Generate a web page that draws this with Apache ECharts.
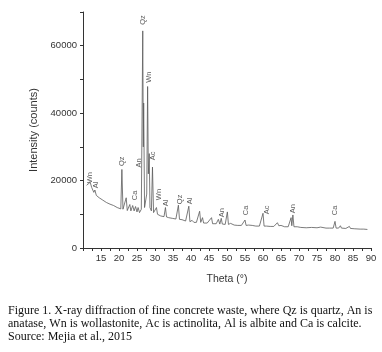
<!DOCTYPE html>
<html>
<head>
<meta charset="utf-8">
<script src="https://cdn.jsdelivr.net/npm/echarts@6/dist/echarts.min.js"></script>
<style>
  html, body { margin: 0; padding: 0; background: #fff; }
  #chart { width: 382px; height: 352px; }
</style>
</head>
<body>
<div id="chart"></div>
<script>
// XRD pattern: 2-theta (deg) and intensity (counts)
const theta = [
  11.0, 11.5, 12.0, 12.4, 13.0, 13.3, 13.7, 14.5, 15.5, 16.5, 17.5, 18.0, 18.5, 19.5,
  20.5, 20.8, 21.1, 21.5, 22.0, 22.3, 23.0, 23.3, 23.8, 24.2, 24.6, 25.0, 25.3, 25.7,
  26.2, 26.4, 26.6, 26.75, 26.85, 27.1, 27.4, 27.7, 27.95, 28.15, 28.4, 28.6, 29.0, 29.3,
  29.6, 30.0, 30.4, 30.7, 31.2, 31.6, 32.0, 32.5, 32.9, 33.2, 33.8, 34.3, 34.8, 35.3,
  35.8, 36.5, 36.8, 37.5, 38.0, 38.5, 39.0, 39.4, 39.7, 40.3, 40.8, 41.5, 42.0, 42.4,
  42.7, 43.2, 43.5, 44.5, 45.0, 45.7, 46.0, 47.0, 47.6, 48.0, 48.4, 48.7, 49.5, 50.1,
  50.4, 51.0, 52.0, 53.0, 54.0, 55.0, 55.3, 56.0, 57.0, 58.0, 59.0, 60.0, 60.3, 61.0,
  62.0, 63.0, 64.0, 64.4, 65.0, 66.0, 67.0, 67.8, 68.0, 68.3, 68.6, 69.5, 70.5, 72.0,
  73.5, 75.0, 76.0, 76.3, 77.5, 78.0, 78.5, 79.5, 80.0, 80.3, 81.0, 81.5, 81.8, 83.0,
  84.0, 84.3, 85.5, 87.0, 88.0, 89.0
];
const counts = [
  18600, 18300, 19500, 18000, 16500, 17200, 15600, 14900, 14200, 13500, 13000, 13400, 12600, 12000,
  11600, 23300, 11500, 11200, 14900, 11100, 12900, 11000, 12600, 11000, 12300, 10700, 12000, 10500,
  11500, 11000, 64400, 30000, 43000, 12000, 11500, 16000, 47900, 22000, 28000, 12000, 11000, 24000,
  10500, 10200, 12000, 10000, 10400, 9500, 9800, 9300, 12000, 9200, 9000, 9300, 8800, 9300,
  8600, 12700, 8500, 8400, 8300, 8000, 7900, 12400, 7800, 8200, 7600, 7600, 8100, 10900,
  7600, 9000, 7400, 7400, 7300, 9000, 7200, 7200, 8500, 7100, 8800, 7100, 7000, 10700,
  7000, 7300, 6800, 6700, 6700, 8300, 6700, 6800, 6700, 6500, 6500, 10300, 6500, 6500,
  6400, 6400, 7500, 6600, 6700, 6300, 6300, 9000, 6600, 9800, 6300, 6300, 6100, 6000,
  6100, 6000, 6200, 5900, 5900, 6200, 5900, 5900, 7900, 5900, 5900, 6600, 5900, 5800,
  6400, 5800, 5700, 5600, 5600, 5500
];

// phase labels: 2-theta, counts at the foot of the label, phase name
const phaseTheta = [11.8, 13.5, 20.8, 24.4, 25.6, 26.6, 28.3, 29.5, 31.0, 33.0, 37.0, 39.7, 48.5, 55.3, 61.0, 68.2, 80.1];
const phaseCounts = [19200, 17700, 24300, 14200, 23900, 66200, 49000, 26000, 14200, 12400, 13000, 13000, 9150, 9750, 10000, 10300, 9750];
const phaseNames = ['Wn', 'Al', 'Qz', 'Ca', 'An', 'Qz', 'Wn', 'Ac', 'Wn', 'Al', 'Qz', 'Al', 'An', 'Ca', 'Ac', 'An', 'Ca'];

const caption = [
  'Figure 1. X-ray diffraction of fine concrete waste, where Qz is quartz, An is',
  'anatase, Wn is wollastonite, Ac is actinolita, Al is albite and Ca is calcite.',
  'Source: Mejia et al., 2015'
];

const pattern = theta.map((t, i) => [t, counts[i]]);
const phases = phaseTheta.map((t, i) => ({ value: [t, phaseCounts[i]], name: phaseNames[i] }));

const AXIS = '#333333';
const SANS = 'Arial, "Liberation Sans", Helvetica, sans-serif';

const chart = echarts.init(document.getElementById('chart'), null, { renderer: 'canvas' });
chart.setOption({
  backgroundColor: '#ffffff',
  animation: false,
  textStyle: { fontFamily: SANS },
  grid: { left: 83, right: 11, top: 12, bottom: 104 },
  xAxis: {
    type: 'value',
    min: 10,
    max: 90,
    interval: 2.5,
    name: 'Theta (°)',
    nameLocation: 'middle',
    nameGap: 26,
    nameTextStyle: { color: AXIS, fontSize: 10.5, fontFamily: SANS },
    axisLine: { lineStyle: { color: AXIS, width: 1 } },
    axisTick: { length: 3, lineStyle: { color: AXIS } },
    axisLabel: {
      color: AXIS, fontSize: 9.5, margin: 5,
      formatter: v => (v % 5 === 0 && v !== 10 ? String(v) : '')
    },
    splitLine: { show: false }
  },
  yAxis: {
    type: 'value',
    min: 0,
    max: 70000,
    interval: 10000,
    name: 'Intensity (counts)',
    nameLocation: 'middle',
    nameGap: 39,
    nameTextStyle: { color: AXIS, fontSize: 11, fontFamily: SANS },
    axisLine: { show: true, lineStyle: { color: AXIS, width: 1 } },
    axisTick: { show: true, length: 3, lineStyle: { color: AXIS } },
    axisLabel: {
      color: AXIS, fontSize: 9.5, margin: 6,
      formatter: v => (v % 20000 === 0 ? String(v) : '')
    },
    splitLine: { show: false }
  },
  series: [
    {
      type: 'line',
      data: pattern,
      symbol: 'none',
      lineStyle: { color: '#5a5a5a', width: 0.8 },
      z: 2
    },
    {
      type: 'scatter',
      data: phases,
      symbolSize: 0,
      label: {
        show: true,
        position: 'inside',
        rotate: 90,
        align: 'left',
        verticalAlign: 'middle',
        formatter: p => p.name,
        color: AXIS,
        fontSize: 7.5,
        fontFamily: SANS
      },
      silent: true,
      z: 3
    }
  ],
  graphic: [
    {
      type: 'text',
      left: 8,
      top: 304,
      style: {
        text: caption.join('\n'),
        fill: '#111111',
        font: '12px "Liberation Serif", "Times New Roman", serif',
        lineHeight: 13
      }
    }
  ]
});
</script>
</body>
</html>
